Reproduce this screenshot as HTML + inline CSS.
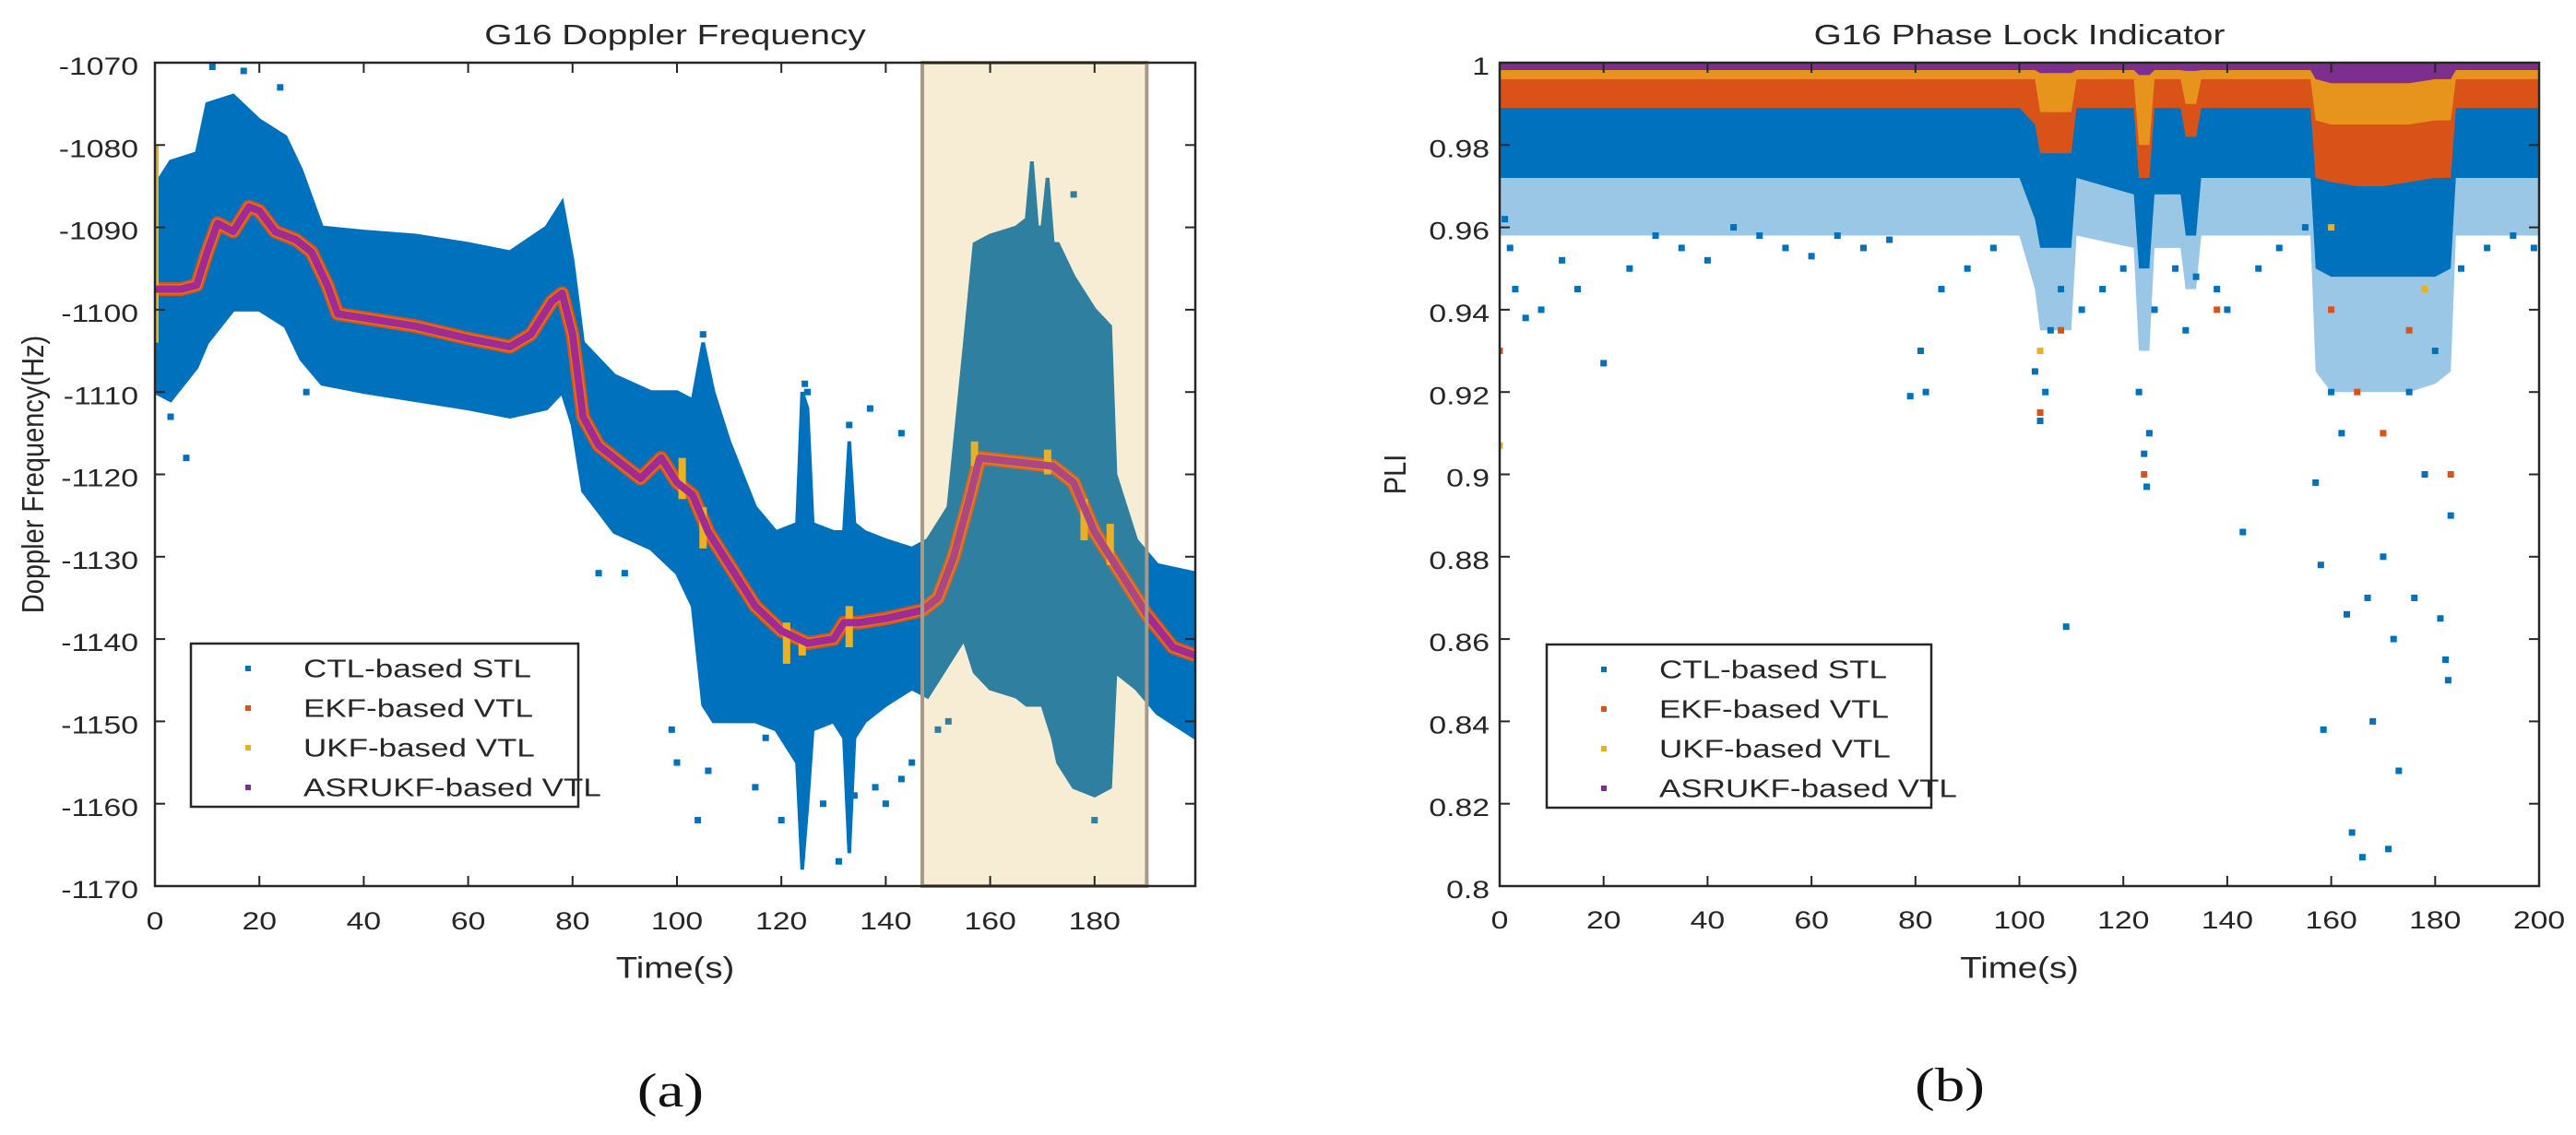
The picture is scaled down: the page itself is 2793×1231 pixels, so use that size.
<!DOCTYPE html>
<html><head><meta charset="utf-8"><style>
html,body{margin:0;padding:0;background:#fff;}
svg{display:block;}
text{font-family:"Liberation Sans",Arial,sans-serif;fill:#262626;}
</style></head><body>
<svg id="fig" width="2793" height="1231" viewBox="0 0 2793 1231" xmlns="http://www.w3.org/2000/svg">
<rect x="0" y="0" width="2793" height="1231" fill="#fff"/>
<g id="left"></g>
<g id="right"></g>
</svg>
<script>
// ---------- Left chart data (Doppler frequency, Hz) ----------
const envT = [0,3,8,10,15,20,25,28,32,40,50,60,68,75,78,80,82,88,95,100,103,105,107,110,115,119,123,124,125,126,130,132,133,134,136,140,145,148,152,155,157,160,165,167,168,169,170,171,172,173,176,180,183,184,188,192,199.3];
const ctlUpper = [-1085,-1082,-1081,-1075,-1074,-1077,-1079,-1083,-1090,-1090.5,-1091,-1092,-1093,-1090,-1087,-1094,-1104,-1108,-1110,-1110,-1111,-1104,-1110,-1116,-1124,-1127,-1126,-1110,-1112,-1126,-1127,-1127,-1116,-1126,-1127,-1128,-1129,-1128,-1124,-1105,-1092,-1091,-1090,-1089,-1082,-1090,-1090,-1084,-1092,-1092,-1096,-1100,-1102,-1120,-1128,-1131,-1132];
const ctlLower = [-1110,-1111,-1107,-1104,-1100,-1100,-1102,-1106,-1109,-1110,-1111,-1112,-1113,-1112,-1110,-1114,-1122,-1127,-1129,-1132,-1136,-1148,-1150,-1150,-1150,-1151,-1155,-1168,-1160,-1151,-1150,-1152,-1166,-1152,-1150,-1148,-1146,-1147,-1143,-1140,-1144,-1146,-1147,-1148,-1148,-1148,-1148,-1150,-1152,-1155,-1158,-1159,-1158,-1144,-1146,-1149,-1152];
const ctlOutT = [11,17,24,3,6,29,85,90,99,100,104,105,106,115,117,120,124.5,125,128,131,133,134,137,138,140,143,143,145,150,152,176,180];
const ctlOutV = [-1070.5,-1071,-1073,-1113,-1118,-1110,-1132,-1132,-1151,-1155,-1162,-1103,-1156,-1158,-1152,-1162,-1109,-1110,-1160,-1167,-1114,-1159,-1112,-1158,-1160,-1115,-1157,-1155,-1151,-1150,-1086,-1162];
const trackT = [0,5,8,10,12,15,18,20,23,27,30,33,35,40,50,60,68,72,76,78,80,82,85,90,93,97,100,103,106,110,115,120,125,130,132,135,140,147,150,153,156,158,165,172,176,180,185,190,195,199.3];
const ekfV = [-1097.5,-1097.5,-1097,-1093,-1089.5,-1090.5,-1087.5,-1088,-1090.5,-1091.5,-1093,-1097,-1100.5,-1101,-1102,-1103.5,-1104.5,-1103,-1099,-1098,-1103,-1113,-1116.5,-1119,-1120.5,-1118,-1121,-1122.5,-1127,-1131,-1136,-1139,-1140.5,-1140,-1138,-1138,-1137.5,-1136.5,-1135,-1130,-1123,-1118,-1118.5,-1119,-1121,-1127,-1132,-1137,-1141,-1142];
const asrV = [-1097.5,-1097.5,-1097,-1093,-1089.5,-1090.5,-1087.5,-1088,-1090.5,-1091.5,-1093,-1097,-1100.5,-1101,-1102,-1103.5,-1104.5,-1103,-1099,-1098,-1103,-1113,-1116.5,-1119,-1120.5,-1118,-1121,-1122.5,-1127,-1131,-1136,-1139,-1140.5,-1140,-1138,-1138,-1137.5,-1136.5,-1135,-1130,-1123,-1118,-1118.5,-1119,-1121,-1127,-1132,-1137,-1141,-1142];
const ukfSpikeT = [0,101,105,121,124,133,157,171,178,183];
const ukfSpikeTop = [-1080,-1118,-1124,-1138,-1140,-1136,-1116,-1117,-1123,-1126];
const ukfSpikeBot = [-1104,-1123,-1129,-1143,-1142,-1141,-1119,-1120,-1128,-1131];
const highlightT = [147,190];
const leftXTicks = [0,20,40,60,80,100,120,140,160,180];
const leftYTicks = [-1070,-1080,-1090,-1100,-1110,-1120,-1130,-1140,-1150,-1160,-1170];

// ---------- Right chart data (PLI) ----------
const bandT = [0,100,103,104,110,111,122,123,125,126,131,132,134,135,156,157,160,165,170,175,180,183,184,200];
const blueLow = [0.972,0.972,0.962,0.955,0.955,0.972,0.968,0.950,0.950,0.968,0.968,0.958,0.958,0.972,0.972,0.950,0.948,0.948,0.948,0.948,0.948,0.950,0.972,0.972];
const fringeLow = [0.958,0.958,0.945,0.935,0.935,0.958,0.955,0.930,0.930,0.955,0.955,0.945,0.945,0.958,0.958,0.925,0.920,0.920,0.920,0.920,0.922,0.925,0.958,0.958];
const orangeLow = [0.989,0.989,0.985,0.978,0.978,0.989,0.989,0.972,0.972,0.989,0.989,0.982,0.982,0.989,0.989,0.972,0.971,0.970,0.970,0.971,0.972,0.972,0.989,0.989];
const yellowLow = [0.996,0.996,0.996,0.988,0.988,0.996,0.996,0.980,0.980,0.996,0.996,0.990,0.990,0.996,0.996,0.986,0.985,0.985,0.985,0.985,0.986,0.986,0.996,0.996];
const purpleLow = [0.9982,0.9982,0.9982,0.9975,0.9975,0.9982,0.9982,0.997,0.997,0.9982,0.9982,0.998,0.998,0.9982,0.9982,0.996,0.995,0.995,0.995,0.995,0.996,0.996,0.9982,0.9982];
const pliOutT = [1,2,3,5,8,12,15,20,25,30,35,40,45,50,55,60,65,70,75,79,81,82,85,90,95,103,104,105,106,108,109,112,116,120,123,124,124.5,125,126,130,132,134,138,140,143,146,150,155,157,158,158.5,160,162,163,164,166,167,168,170,171,172,173,175,176,178,180,181,182,182.5,183,185,190,195,199];
const pliOutV = [0.962,0.955,0.945,0.938,0.940,0.952,0.945,0.927,0.950,0.958,0.955,0.952,0.960,0.958,0.955,0.953,0.958,0.955,0.957,0.919,0.930,0.920,0.945,0.950,0.955,0.925,0.913,0.920,0.935,0.945,0.863,0.940,0.945,0.950,0.920,0.905,0.897,0.910,0.940,0.950,0.935,0.948,0.945,0.940,0.886,0.950,0.955,0.960,0.898,0.878,0.838,0.920,0.910,0.866,0.813,0.807,0.870,0.840,0.880,0.809,0.860,0.828,0.920,0.870,0.900,0.930,0.865,0.855,0.850,0.890,0.950,0.955,0.958,0.955];
const ekfOutT = [0,104,108,124,138,160,165,170,175,183];
const ekfOutV = [0.930,0.915,0.935,0.900,0.940,0.940,0.920,0.910,0.935,0.900];
const ukfOutT = [0,104,160,178];
const ukfOutV = [0.907,0.930,0.960,0.945];
const rightXTicks = [0,20,40,60,80,100,120,140,160,180,200];
const rightYTicks = [0.8,0.82,0.84,0.86,0.88,0.9,0.92,0.94,0.96,0.98,1];

// ---------- axis functions ----------
const L = {x0:168, x1:1296, y0:68, y1:961, tmax:199.3, vmax:-1070, vmin:-1170};
const R = {x0:1626, x1:2753, y0:68, y1:961, tmax:200, vmax:1, vmin:0.8};
function xL(t){return L.x0 + t/L.tmax*(L.x1-L.x0);}
function yL(v){return L.y0 + (L.vmax-v)/(L.vmax-L.vmin)*(L.y1-L.y0);}
function xR(t){return R.x0 + t/R.tmax*(R.x1-R.x0);}
function yR(v){return R.y0 + (R.vmax-v)/(R.vmax-R.vmin)*(R.y1-R.y0);}

const NS = "http://www.w3.org/2000/svg";
function mk(parent, tag, attrs){
  const e = document.createElementNS(NS, tag);
  for (const k in attrs) e.setAttribute(k, attrs[k]);
  parent.appendChild(e);
  return e;
}
function txt(parent, x, y, s, size, anchor, sx, rot, serif){
  const g = mk(parent, "g", {transform:"translate("+x+","+y+") scale("+sx+",1)"+(rot?" rotate("+rot+")":"")});
  const t = mk(g, "text", {x:0, y:0, "font-size":size, "text-anchor":anchor, "dominant-baseline":"middle"});
  if (serif) t.setAttribute("style","font-family:'Liberation Serif',serif;fill:#111");
  t.textContent = s;
  return {g:g, t:t};
}
function bandPath(ts, hi, lo, fx, fy){
  let d = "";
  for (let i=0;i<ts.length;i++) d += (i?"L":"M")+fx(ts[i]).toFixed(1)+","+fy(hi[i]).toFixed(1);
  for (let i=ts.length-1;i>=0;i--) d += "L"+fx(ts[i]).toFixed(1)+","+fy(lo[i]).toFixed(1);
  return d+"Z";
}
function linePath(ts, vs, fx, fy){
  let d="";
  for (let i=0;i<ts.length;i++) d += (i?"L":"M")+fx(ts[i]).toFixed(1)+","+fy(vs[i]).toFixed(1);
  return d;
}

// ================= LEFT CHART =================
const left = document.getElementById("left");
const clipL = mk(left,"clipPath",{id:"clipL"});
mk(clipL,"rect",{x:L.x0,y:L.y0-4,width:L.x1-L.x0,height:L.y1-L.y0+4});
const plotL = mk(left,"g",{"clip-path":"url(#clipL)"});

let e = mk(plotL,"path",{d:bandPath(envT,ctlUpper,ctlLower,xL,yL), fill:"#0072bd", stroke:"#0072bd", "stroke-width":4});


for (let i=0;i<ctlOutT.length;i++){
  const p = mk(plotL,"rect",{x:xL(ctlOutT[i])-3.5,y:yL(ctlOutV[i])-3.5,width:7,height:7,fill:"#0072bd"});
  
  
}
e = mk(plotL,"path",{d:linePath(trackT,ekfV,xL,yL), fill:"none", stroke:"#d95319", "stroke-width":15, "stroke-linejoin":"round"});


for (let i=0;i<ukfSpikeT.length;i++){
  const s = mk(plotL,"rect",{x:xL(ukfSpikeT[i])-4,y:yL(ukfSpikeTop[i]),width:8,height:yL(ukfSpikeBot[i])-yL(ukfSpikeTop[i]),fill:"#edb120"});
  
  
}
e = mk(plotL,"path",{d:linePath(trackT,ekfV,xL,yL), fill:"none", stroke:"#edb120", "stroke-width":11, "stroke-linejoin":"round", opacity:0.35});


e = mk(plotL,"path",{d:linePath(trackT,asrV,xL,yL), fill:"none", stroke:"#a02b95", "stroke-width":8, "stroke-linejoin":"round"});



e = mk(left,"rect",{x:xL(highlightT[0]),y:L.y0,width:xL(highlightT[1])-xL(highlightT[0]),height:L.y1-L.y0,fill:"rgb(214,173,59)","fill-opacity":0.22,stroke:"#a89a8a","stroke-width":4});



e = mk(left,"rect",{x:L.x0,y:L.y0,width:L.x1-L.x0,height:L.y1-L.y0,fill:"none",stroke:"#262626","stroke-width":2.5});


leftXTicks.forEach(t=>{
  const x = xL(t);
  mk(left,"line",{x1:x,y1:L.y1,x2:x,y2:L.y1-11,stroke:"#262626","stroke-width":2});
  mk(left,"line",{x1:x,y1:L.y0,x2:x,y2:L.y0+11,stroke:"#262626","stroke-width":2});
  const o = txt(left,x,1001,String(t),27,"middle",1.25);
  
  
});
leftYTicks.forEach(v=>{
  const y = yL(v);
  mk(left,"line",{x1:L.x0,y1:y,x2:L.x0+11,y2:y,stroke:"#262626","stroke-width":2});
  mk(left,"line",{x1:L.x1,y1:y,x2:L.x1-11,y2:y,stroke:"#262626","stroke-width":2});
  const o = txt(left,150,y+6,String(v),27,"end",1.25);
  
  
});

// ================= RIGHT CHART =================
const right = document.getElementById("right");
const clipR = mk(right,"clipPath",{id:"clipR"});
mk(clipR,"rect",{x:R.x0,y:R.y0-4,width:R.x1-R.x0,height:R.y1-R.y0+4});
const plotR = mk(right,"g",{"clip-path":"url(#clipR)"});
const topV = bandT.map(()=>1.0);
const blueTop = bandT.map(()=>0.9905);
e = mk(plotR,"path",{d:bandPath(bandT,blueLow,fringeLow,xR,yR), fill:"#0072bd", "fill-opacity":0.4});


e = mk(plotR,"path",{d:bandPath(bandT,blueTop,blueLow,xR,yR), fill:"#0072bd"});


for (let i=0;i<pliOutT.length;i++){
  const p = mk(plotR,"rect",{x:xR(pliOutT[i])-3.5,y:yR(pliOutV[i])-3.5,width:7,height:7,fill:"#0072bd"});
  
  
}
e = mk(plotR,"path",{d:bandPath(bandT,topV,orangeLow,xR,yR), fill:"#d95319"});


for (let i=0;i<ekfOutT.length;i++){
  const p = mk(plotR,"rect",{x:xR(ekfOutT[i])-3.5,y:yR(ekfOutV[i])-3.5,width:7,height:7,fill:"#d95319"});
  
  
}
e = mk(plotR,"path",{d:bandPath(bandT,topV,yellowLow,xR,yR), fill:"#edb120", "fill-opacity":0.7});


for (let i=0;i<ukfOutT.length;i++){
  const p = mk(plotR,"rect",{x:xR(ukfOutT[i])-3.5,y:yR(ukfOutV[i])-3.5,width:7,height:7,fill:"#edb120"});
  
  
}
e = mk(plotR,"path",{d:bandPath(bandT,topV,purpleLow,xR,yR), fill:"#7e2f8e"});



e = mk(right,"rect",{x:R.x0,y:R.y0,width:R.x1-R.x0,height:R.y1-R.y0,fill:"none",stroke:"#262626","stroke-width":2.5});


rightXTicks.forEach(t=>{
  const x = xR(t);
  mk(right,"line",{x1:x,y1:R.y1,x2:x,y2:R.y1-11,stroke:"#262626","stroke-width":2});
  mk(right,"line",{x1:x,y1:R.y0,x2:x,y2:R.y0+11,stroke:"#262626","stroke-width":2});
  const o = txt(right,x,1000,String(t),27,"middle",1.25);
  
  
});
rightYTicks.forEach(v=>{
  const y = yR(v);
  mk(right,"line",{x1:R.x0,y1:y,x2:R.x0+11,y2:y,stroke:"#262626","stroke-width":2});
  mk(right,"line",{x1:R.x1,y1:y,x2:R.x1-11,y2:y,stroke:"#262626","stroke-width":2});
  const o = txt(right,1615,y+6,String(v),27,"end",1.25);
  
  
});

// ================= titles, labels, legends =================
function label(parent,x,y,s,size,anchor,sx,rot,name,serif){
  const o = txt(parent,x,y,s,size,anchor,sx,rot,serif);
  
  
}
label(left,(L.x0+L.x1)/2,40,"G16 Doppler Frequency",31,"middle",1.25,0,"left-chart-title");
label(right,(R.x0+R.x1)/2,40,"G16 Phase Lock Indicator",31,"middle",1.25,0,"right-chart-title");
label(left,(L.x0+L.x1)/2,1052,"Time(s)",32,"middle",1.2,0,"x-axis-title");
label(right,(R.x0+R.x1)/2,1052,"Time(s)",32,"middle",1.2,0,"x-axis-title");
label(left,38,(L.y0+L.y1)/2,"Doppler Frequency(Hz)",29,"middle",1.15,-90,"y-axis-title");
label(right,1515,(R.y0+R.y1)/2,"PLI",29,"middle",1.15,-90,"y-axis-title");
label(left,727,1188,"(a)",52,"middle",1.25,0,"subfigure-label-a",true);
label(right,2114,1182,"(b)",52,"middle",1.25,0,"subfigure-label-b",true);

const legNames = ["CTL-based STL","EKF-based VTL","UKF-based VTL","ASRUKF-based VTL"];
const legColors = ["#0072bd","#d95319","#edb120","#7e2f8e"];
function legend(parent,x0,x1,y0,y1){
  const g = mk(parent,"g",{});
  
  
  mk(g,"rect",{x:x0,y:y0,width:x1-x0,height:y1-y0,fill:"#fff",stroke:"#262626","stroke-width":2.5});
  legNames.forEach((n,i)=>{
    const y = y0+27+i*43;
    const en = mk(g,"g",{});
    
    
    mk(en,"rect",{x:x0+59,y:y-3,width:6,height:6,fill:legColors[i]});
    txt(en,x0+122,y+2,n,28,"start",1.25);
  });
}
legend(left,207,627,698,875);
legend(right,1677,2094,699,876);
</script>
</body></html>
